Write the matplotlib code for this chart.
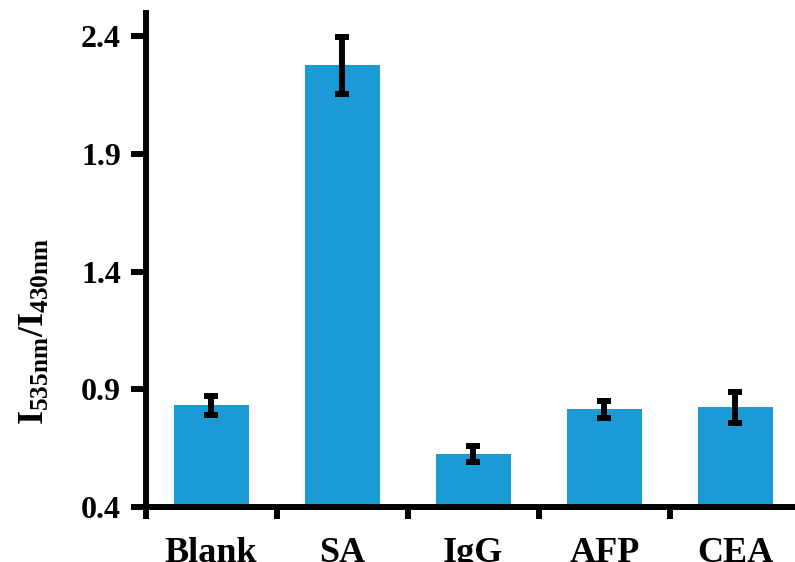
import numpy as np
import matplotlib
matplotlib.use("Agg")
import matplotlib.pyplot as plt
from matplotlib.ticker import FixedLocator

plt.rcParams['font.family'] = ['Liberation Serif', 'DejaVu Serif']
plt.rcParams['font.weight'] = 'bold'
plt.rcParams['mathtext.fontset'] = 'custom'
plt.rcParams['mathtext.rm'] = 'Liberation Serif:bold'
plt.rcParams['mathtext.bf'] = 'Liberation Serif:bold'
plt.rcParams['mathtext.it'] = 'Liberation Serif:bold'

categories = ["Blank", "SA", "IgG", "AFP", "CEA"]
ratio = [0.832, 2.278, 0.624, 0.815, 0.823]
ratio_err = [0.040, 0.121, 0.035, 0.036, 0.066]
yticks = [0.4, 0.9, 1.4, 1.9, 2.4]

fig = plt.figure(figsize=(7.95, 5.62), dpi=100)
ax = fig.add_axes([0.1833, 0.0984, 0.824, 0.8785])

x = np.arange(len(categories))
ax.bar(x, ratio, width=0.57, color='#1c9ad6', zorder=2)
ax.errorbar(x, ratio, yerr=ratio_err, fmt='none', ecolor='black',
            elinewidth=4.3, capsize=4.7, capthick=4.3, zorder=3)

ax.set_xlim(-0.5, len(categories) - 0.5)
ax.set_ylim(0.4, 2.5)
ax.set_yticks(yticks)
ax.set_yticklabels([f"{v:.1f}" for v in yticks])
ax.set_xticks(x)
ax.set_xticklabels(categories)
ax.xaxis.set_minor_locator(FixedLocator(np.arange(-0.5, len(categories), 1.0)))

for s in ['top', 'right']:
    ax.spines[s].set_visible(False)
for s in ['left', 'bottom']:
    ax.spines[s].set_linewidth(4.3)

ax.tick_params(axis='y', which='major', direction='out', length=10.8, width=4.3,
               labelsize=23, pad=7)
ax.tick_params(axis='x', which='major', length=0, labelsize=26, pad=22)
ax.tick_params(axis='x', which='minor', direction='out', length=8.9, width=4.3)
for lab in ax.get_xticklabels() + ax.get_yticklabels():
    lab.set_fontweight('bold')

fig.text(0.045, 0.411, r'$\mathbf{I_{535nm}/I_{430nm}}$', rotation=90,
         ha='center', va='center', fontsize=26)

fig.savefig("out.png", dpi=100)
